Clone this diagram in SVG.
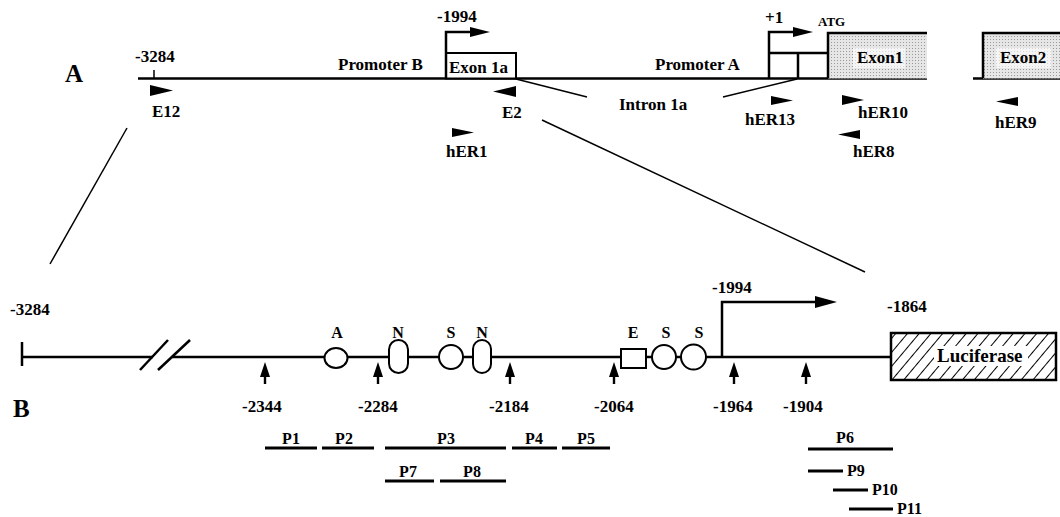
<svg xmlns="http://www.w3.org/2000/svg" width="1060" height="517" viewBox="0 0 1060 517">
<style>
text{font-family:"Liberation Serif","Times New Roman",serif;font-weight:bold;fill:#000}
.t17{font-size:17px}
.t16{font-size:16px}
.mid{text-anchor:middle}
.ln{stroke:#000;stroke-width:2.5;fill:none}
.thin{stroke:#000;stroke-width:1.5;fill:none}
.frag{stroke:#000;stroke-width:3}
.tri{fill:#000}
.el{fill:#fff;stroke:#000;stroke-width:2}
</style>
<defs>
<pattern id="hatch" width="9" height="9" patternUnits="userSpaceOnUse" patternTransform="rotate(40)">
<rect width="9" height="9" fill="#fff"/>
<line x1="0" y1="0" x2="0" y2="9" stroke="#000" stroke-width="2"/>
</pattern>
<pattern id="stip" width="3" height="3" patternUnits="userSpaceOnUse">
<rect width="3" height="3" fill="#e6e6e6"/>
<rect width="1" height="1" fill="#999"/>
</pattern>
<g id="uparrow">
<polygon points="-5,377 5,377 0,362" fill="#000"/>
<rect x="-1.2" y="376" width="2.4" height="8" fill="#000"/>
</g>
</defs>
<rect width="1060" height="517" fill="#fff"/>

<!-- Panel A -->
<g id="panelA">
<text x="65" y="82" style="font-size:25px">A</text>
<line class="ln" x1="138" y1="78.5" x2="927" y2="78.5"/>
<line class="ln" x1="973" y1="78.5" x2="1060" y2="78.5"/>
<line class="thin" x1="154" y1="70" x2="154" y2="78"/>
<text class="t17" x="135" y="62">-3284</text>
<text class="t17" x="338" y="70">Promoter B</text>
<text class="t17" x="655" y="70">Promoter A</text>
</g>
<g id="exon1a">
<rect x="446" y="53" width="70" height="25.5" fill="#fff" stroke="#000" stroke-width="2"/>
<text class="t17" x="449" y="73">Exon 1a</text>
<path class="ln" d="M446 78 V32 H472"/>
<polygon class="tri" points="470,27 490,32 470,37"/>
<text class="t17" x="437" y="22">-1994</text>
</g>
<g id="promoterA">
<path class="ln" d="M769 78 V32 H795"/>
<polygon class="tri" points="793,27 813,32 793,37"/>
<path class="ln" d="M769 53 H828 M798 53 V78"/>
<text class="t17" x="765" y="23">+1</text>
<text x="818" y="26" style="font-size:13px">ATG</text>
</g>
<g id="exon1">
<rect x="828" y="33" width="99" height="45.5" fill="url(#stip)"/>
<path class="ln" d="M828 78 V33 H927"/>
<rect x="853" y="48" width="52" height="20" fill="#fff" opacity="0.6"/>
<text class="t17" x="857" y="63">Exon1</text>
</g>
<g id="exon2">
<rect x="983" y="33" width="77" height="45.5" fill="url(#stip)"/>
<path class="ln" d="M983 78 V33 H1060"/>
<rect x="996" y="48" width="55" height="20" fill="#fff" opacity="0.6"/>
<text class="t17" x="1000" y="63">Exon2</text>
</g>
<g id="primers">
<polygon class="tri" points="150,85 150,96 173,90.5"/>
<text class="t17" x="152" y="117">E12</text>
<polygon class="tri" points="516,86 516,97 493,91.5"/>
<text class="t17" x="502" y="118">E2</text>
<polygon class="tri" points="452,128 452,137 474,132.5"/>
<text class="t17" x="446" y="157">hER1</text>
<polygon class="tri" points="771,96 771,105 793,100.5"/>
<text class="t17" x="745" y="125">hER13</text>
<polygon class="tri" points="842,95 842,105 864,100"/>
<text class="t17" x="858" y="118">hER10</text>
<polygon class="tri" points="860,130 860,139 838,134.5"/>
<text class="t17" x="853" y="157">hER8</text>
<polygon class="tri" points="1018,97 1018,106 996,101.5"/>
<text class="t17" x="995" y="128">hER9</text>
<text class="t17" x="619" y="110">Intron 1a</text>
</g>

<!-- Connectors -->
<g id="connectors">
<line class="thin" x1="516" y1="79" x2="587" y2="97"/>
<line class="thin" x1="723" y1="97" x2="797" y2="79"/>
<line class="thin" x1="127" y1="128" x2="50" y2="264"/>
<line class="thin" x1="542" y1="120" x2="865" y2="272"/>
</g>

<!-- Panel B -->
<g id="panelB">
<text x="13" y="417" style="font-size:25px">B</text>
<line class="ln" x1="22" y1="342" x2="22" y2="366"/>
<line class="ln" x1="22" y1="357" x2="153" y2="357"/>
<line class="ln" x1="172" y1="357" x2="891" y2="357"/>
<line class="ln" x1="140" y1="370" x2="168" y2="340"/>
<line class="ln" x1="158" y1="370" x2="190" y2="340"/>
<text class="t17" x="10" y="315">-3284</text>
<text class="t17" x="712" y="293">-1994</text>
<text class="t17" x="887" y="312">-1864</text>
<path class="ln" d="M722 357 V302 H817"/>
<polygon class="tri" points="815,296 837,302 815,308"/>
</g>
<g id="sites">
<ellipse class="el" cx="336" cy="358" rx="11.5" ry="10"/>
<text class="t16 mid" x="337" y="338">A</text>
<rect class="el" x="389" y="340" width="19" height="33" rx="9.5"/>
<text class="t16 mid" x="398" y="338">N</text>
<circle class="el" cx="451" cy="357" r="12"/>
<text class="t16 mid" x="451" y="338">S</text>
<rect class="el" x="473" y="340" width="18" height="33" rx="9"/>
<text class="t16 mid" x="482" y="338">N</text>
<rect class="el" x="621" y="349" width="25" height="19"/>
<text class="t16 mid" x="633" y="338">E</text>
<circle class="el" cx="664" cy="357" r="12"/>
<text class="t16 mid" x="666" y="338">S</text>
<circle class="el" cx="693.5" cy="357" r="12.5"/>
<text class="t16 mid" x="699" y="338">S</text>
</g>
<g id="deletions">
<use href="#uparrow" x="265"/>
<use href="#uparrow" x="378"/>
<use href="#uparrow" x="510"/>
<use href="#uparrow" x="614"/>
<use href="#uparrow" x="734"/>
<use href="#uparrow" x="806"/>
<text class="t17" x="242" y="412">-2344</text>
<text class="t17" x="358" y="412">-2284</text>
<text class="t17" x="489" y="412">-2184</text>
<text class="t17" x="594" y="412">-2064</text>
<text class="t17" x="713" y="412">-1964</text>
<text class="t17" x="783" y="412">-1904</text>
</g>
<g id="luciferase">
<rect x="891" y="333" width="165" height="47" fill="url(#hatch)" stroke="#000" stroke-width="2.5"/>
<rect x="934" y="346" width="94" height="20" fill="#fff"/>
<text x="937" y="362" style="font-size:19px">Luciferase</text>
</g>
<g id="fragments">
<line class="frag" x1="265" y1="448" x2="317" y2="448"/>
<text class="t16 mid" x="291" y="444">P1</text>
<line class="frag" x1="322" y1="448" x2="374" y2="448"/>
<text class="t16 mid" x="344" y="444">P2</text>
<line class="frag" x1="385" y1="448" x2="506" y2="448"/>
<text class="t16 mid" x="446" y="444">P3</text>
<line class="frag" x1="512" y1="448" x2="557" y2="448"/>
<text class="t16 mid" x="534" y="444">P4</text>
<line class="frag" x1="562" y1="448" x2="610" y2="448"/>
<text class="t16 mid" x="586" y="444">P5</text>
<line class="frag" x1="385" y1="481" x2="434" y2="481"/>
<text class="t16 mid" x="408" y="477">P7</text>
<line class="frag" x1="440" y1="481" x2="506" y2="481"/>
<text class="t16 mid" x="472" y="477">P8</text>
<line class="frag" x1="808" y1="449" x2="893" y2="449"/>
<text class="t16 mid" x="845" y="443">P6</text>
<line class="frag" x1="808" y1="471" x2="843" y2="471"/>
<text class="t16" x="847" y="476">P9</text>
<line class="frag" x1="833" y1="490" x2="868" y2="490"/>
<text class="t16" x="872" y="495">P10</text>
<line class="frag" x1="849" y1="509" x2="893" y2="509"/>
<text class="t16" x="897" y="514">P11</text>
</g>
</svg>
